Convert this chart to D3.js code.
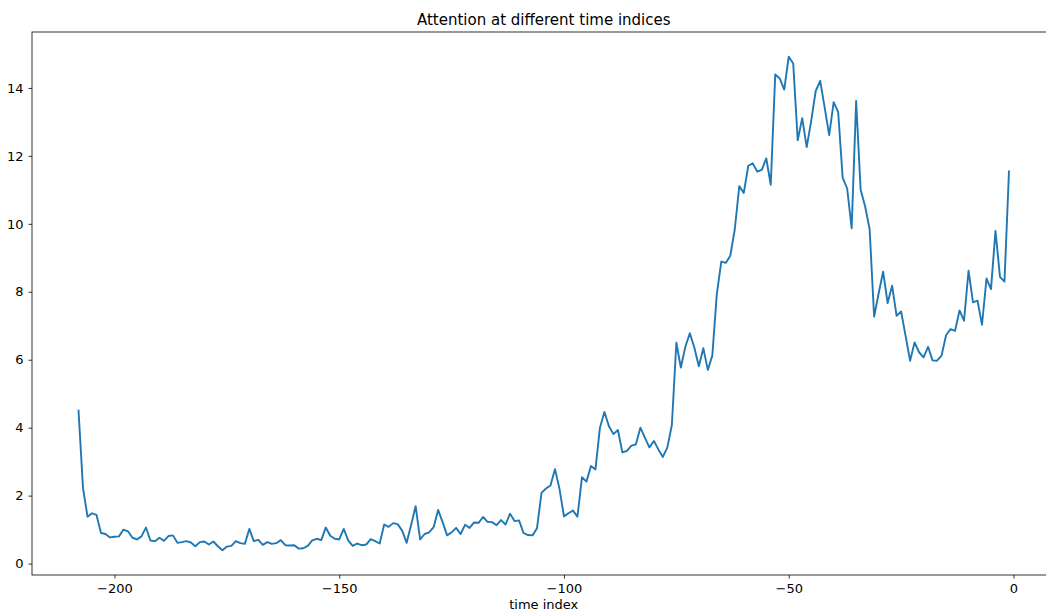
<!DOCTYPE html>
<html>
<head>
<meta charset="utf-8">
<script src="https://cdn.jsdelivr.net/npm/d3@7"></script>
<style>
  html, body { margin: 0; padding: 0; background: #fff; }
  svg { display: block; }
  text { font-family: "DejaVu Sans", sans-serif; fill: #000; }
</style>
</head>
<body>
<svg id="chart" width="1046" height="613"></svg>
<script>
// Attention weight for each time index (-208 … -1)
const firstIndex = -208;
const attention = [
  4.50, 2.22, 1.38, 1.48, 1.43, 0.90, 0.87, 0.77, 0.79, 0.80,
  1.00, 0.95, 0.76, 0.71, 0.80, 1.06, 0.68, 0.66, 0.76, 0.67,
  0.81, 0.83, 0.61, 0.63, 0.66, 0.62, 0.51, 0.63, 0.65, 0.56,
  0.65, 0.51, 0.39, 0.50, 0.52, 0.66, 0.60, 0.58, 1.02, 0.66,
  0.70, 0.55, 0.63, 0.58, 0.60, 0.69, 0.54, 0.53, 0.54, 0.44,
  0.45, 0.52, 0.68, 0.73, 0.69, 1.06, 0.82, 0.73, 0.71, 1.02,
  0.68, 0.52, 0.59, 0.54, 0.56, 0.72, 0.66, 0.59, 1.15, 1.08,
  1.19, 1.16, 0.97, 0.61, 1.14, 1.69, 0.71, 0.87, 0.92, 1.07,
  1.58, 1.22, 0.83, 0.92, 1.05, 0.87, 1.14, 1.05, 1.21, 1.20,
  1.37, 1.23, 1.22, 1.13, 1.28, 1.15, 1.47, 1.25, 1.27, 0.90,
  0.84, 0.83, 1.04, 2.08, 2.21, 2.30, 2.78, 2.20, 1.39, 1.48,
  1.56, 1.38, 2.54, 2.41, 2.87, 2.77, 4.00, 4.46, 4.04, 3.81,
  3.93, 3.27, 3.32, 3.47, 3.51, 4.00, 3.71, 3.42, 3.61, 3.36,
  3.14, 3.42, 4.08, 6.50, 5.77, 6.38, 6.78, 6.36, 5.81, 6.34,
  5.70, 6.12, 7.93, 8.89, 8.85, 9.06, 9.84, 11.11, 10.91, 11.71,
  11.78, 11.54, 11.59, 11.93, 11.15, 14.40, 14.28, 13.95, 14.92, 14.72,
  12.46, 13.11, 12.26, 13.03, 13.91, 14.21, 13.42, 12.61, 13.58, 13.29,
  11.36, 11.04, 9.87, 13.62, 11.00, 10.51, 9.84, 7.27, 7.95, 8.59,
  7.67, 8.18, 7.29, 7.42, 6.70, 5.97, 6.51, 6.22, 6.07, 6.38,
  5.98, 5.97, 6.12, 6.72, 6.90, 6.85, 7.45, 7.15, 8.62, 7.69,
  7.74, 7.03, 8.39, 8.08, 9.79, 8.44, 8.30, 11.54
];
const timeIndex = attention.map((_, i) => firstIndex + i);

const xTicks = [-200, -150, -100, -50, 0];
const yTicks = [0, 2, 4, 6, 8, 10, 12, 14];

const titleText = "Attention at different time indices";
const xLabelText = "time index";

// axes box (right edge runs past the canvas)
const box = { left: 32, top: 32, right: 1055.5, bottom: 575 };

const svg = d3.select("#chart");

// matplotlib-style 5% padding around the data range
function padded(ext) {
  const d = (ext[1] - ext[0]) * 0.05;
  return [ext[0] - d, ext[1] + d];
}

const x = d3.scaleLinear()
  .domain(padded(d3.extent(timeIndex)))
  .range([box.left, box.right]);

const y = d3.scaleLinear()
  .domain(padded(d3.extent(attention)))
  .range([box.bottom, box.top]);

// data line
const line = d3.line()
  .x((d, i) => x(timeIndex[i]))
  .y(d => y(d));

svg.append("path")
  .datum(attention)
  .attr("fill", "none")
  .attr("stroke", "#1f77b4")
  .attr("stroke-width", 1.9)
  .attr("stroke-linejoin", "round")
  .attr("stroke-linecap", "square")
  .attr("d", line);

// axes
const fmt = d => d < 0 ? "\u2212" + Math.abs(d) : String(d);

const xAxis = svg.append("g")
  .attr("transform", `translate(0,${box.bottom})`)
  .call(d3.axisBottom(x).tickValues(xTicks).tickFormat(fmt).tickSize(3.5).tickPadding(5));

const yAxis = svg.append("g")
  .attr("transform", `translate(${box.left},0)`)
  .call(d3.axisLeft(y).tickValues(yTicks).tickFormat(fmt).tickSize(3.5).tickPadding(5));

[xAxis, yAxis].forEach(g => {
  g.select(".domain").remove();
  g.selectAll(".tick line").attr("stroke", "#000").attr("stroke-width", 0.8);
  g.selectAll(".tick text")
    .attr("fill", "#000")
    .style("font-family", "'DejaVu Sans', sans-serif")
    .style("font-size", "13px");
});

// frame
svg.append("rect")
  .attr("x", box.left)
  .attr("y", box.top)
  .attr("width", box.right - box.left)
  .attr("height", box.bottom - box.top)
  .attr("fill", "none")
  .attr("stroke", "#000")
  .attr("stroke-width", 0.8);

// title and axis label
svg.append("text")
  .attr("x", (box.left + box.right) / 2)
  .attr("y", 25)
  .attr("text-anchor", "middle")
  .style("font-size", "15px")
  .text(titleText);

svg.append("text")
  .attr("x", (box.left + box.right) / 2)
  .attr("y", 609)
  .attr("text-anchor", "middle")
  .style("font-size", "13px")
  .text(xLabelText);
</script>
</body>
</html>
